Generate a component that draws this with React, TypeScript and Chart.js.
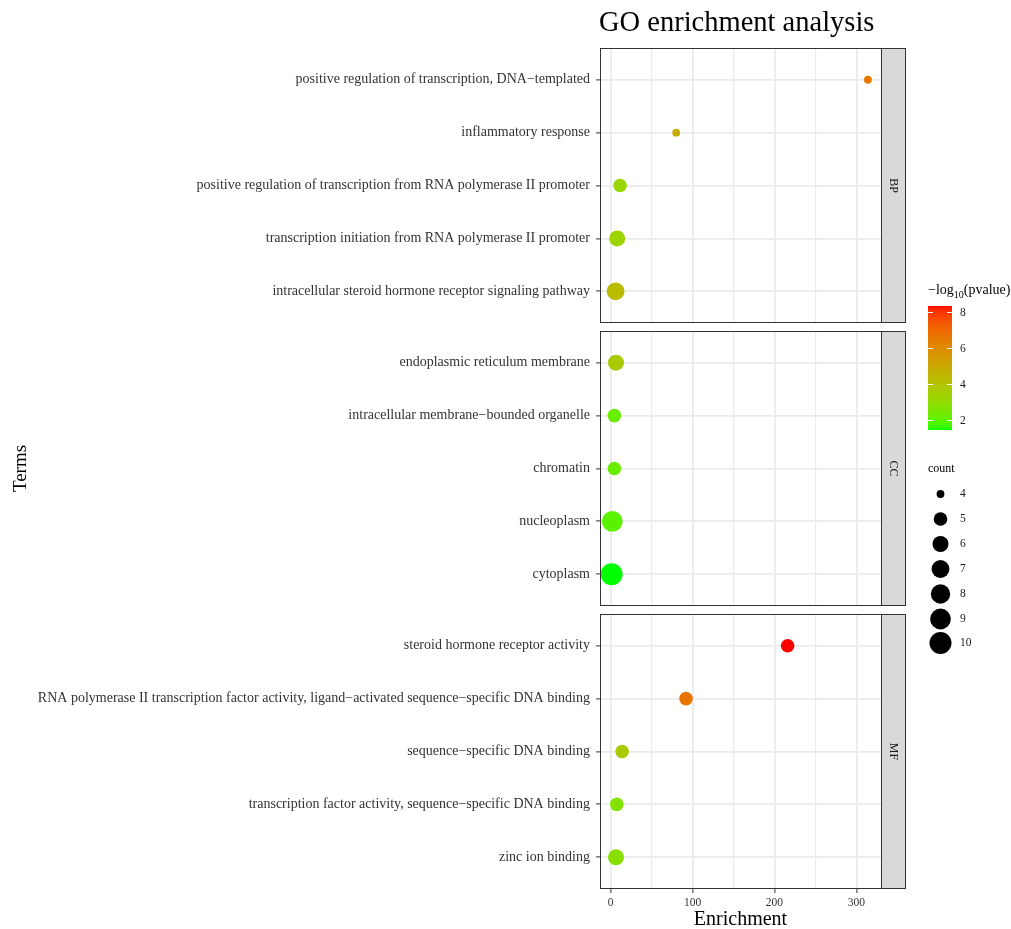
import React, { useEffect, useRef } from "react";
import { Chart, registerables } from "chart.js";

Chart.register(...registerables);

// ---------------- data ----------------
const facetNames = ["BP", "CC", "MF"];

const bpTerms = [
  "positive regulation of transcription, DNA\u2212templated",
  "inflammatory response",
  "positive regulation of transcription from RNA polymerase II promoter",
  "transcription initiation from RNA polymerase II promoter",
  "intracellular steroid hormone receptor signaling pathway",
];
const bpEnrichment = [314, 80, 11.5, 8, 6];
const bpCount = [4, 4, 5, 6, 7];
const bpLogP = [6.6, 4.9, 3.2, 3.3, 4.2];

const ccTerms = [
  "endoplasmic reticulum membrane",
  "intracellular membrane\u2212bounded organelle",
  "chromatin",
  "nucleoplasm",
  "cytoplasm",
];
const ccEnrichment = [6.5, 4.5, 4.5, 2, 1.2];
const ccCount = [6, 5, 5, 9, 10];
const ccLogP = [3.7, 2.2, 2.2, 2.0, 1.45];

const mfTerms = [
  "steroid hormone receptor activity",
  "RNA polymerase II transcription factor activity, ligand\u2212activated sequence\u2212specific DNA binding",
  "sequence\u2212specific DNA binding",
  "transcription factor activity, sequence\u2212specific DNA binding",
  "zinc ion binding",
];
const mfEnrichment = [216, 92, 14, 7.5, 6.5];
const mfCount = [5, 5, 5, 5, 6];
const mfLogP = [8.35, 6.7, 3.7, 2.7, 2.8];

const xTickValues = [0, 50, 100, 150, 200, 250, 300];
const colorbarTicks = [2, 4, 6, 8];
const sizeLegendCounts = [4, 5, 6, 7, 8, 9, 10];

// ---------------- colour helpers (Lab interpolation like ggplot) ----------------
const LOW_RGB = [0, 255, 0];
const HIGH_RGB = [255, 0, 0];
const Xn = 0.95047, Yn = 1.0, Zn = 1.08883;
function s2l(c: number) {
  c /= 255;
  return c <= 0.04045 ? c / 12.92 : Math.pow((c + 0.055) / 1.055, 2.4);
}
function l2s(c: number) {
  const v = c <= 0.0031308 ? 12.92 * c : 1.055 * Math.pow(Math.max(c, 0), 1 / 2.4) - 0.055;
  return Math.round(Math.max(0, Math.min(1, v)) * 255);
}
function rgbToLab(rgb: number[]) {
  const R = s2l(rgb[0]), G = s2l(rgb[1]), B = s2l(rgb[2]);
  const X = R * 0.4124 + G * 0.3576 + B * 0.1805;
  const Y = R * 0.2126 + G * 0.7152 + B * 0.0722;
  const Z = R * 0.0193 + G * 0.1192 + B * 0.9505;
  const f = (t: number) => (t > 0.008856 ? Math.cbrt(t) : 7.787 * t + 16 / 116);
  const fx = f(X / Xn), fy = f(Y / Yn), fz = f(Z / Zn);
  return [116 * fy - 16, 500 * (fx - fy), 200 * (fy - fz)];
}
function labToRgb(lab: number[]) {
  const fy = (lab[0] + 16) / 116, fx = fy + lab[1] / 500, fz = fy - lab[2] / 200;
  const finv = (t: number) => (t * t * t > 0.008856 ? t * t * t : (t - 16 / 116) / 7.787);
  const X = Xn * finv(fx), Y = Yn * finv(fy), Z = Zn * finv(fz);
  const R = 3.2406 * X - 1.5372 * Y - 0.4986 * Z;
  const G = -0.9689 * X + 1.8758 * Y + 0.0415 * Z;
  const B = 0.0557 * X - 0.204 * Y + 1.057 * Z;
  return `rgb(${l2s(R)},${l2s(G)},${l2s(B)})`;
}
const LOW_LAB = rgbToLab(LOW_RGB);
const HIGH_LAB = rgbToLab(HIGH_RGB);

const allLogP = [...bpLogP, ...ccLogP, ...mfLogP];
const allCount = [...bpCount, ...ccCount, ...mfCount];
const pMin = Math.min(...allLogP);
const pMax = Math.max(...allLogP);
const cMin = Math.min(...allCount);
const cMax = Math.max(...allCount);

function colorFor(v: number) {
  const t = Math.max(0, Math.min(1, (v - pMin) / (pMax - pMin)));
  return labToRgb([
    LOW_LAB[0] + (HIGH_LAB[0] - LOW_LAB[0]) * t,
    LOW_LAB[1] + (HIGH_LAB[1] - LOW_LAB[1]) * t,
    LOW_LAB[2] + (HIGH_LAB[2] - LOW_LAB[2]) * t,
  ]);
}
const R_MIN = 3.9, R_MAX = 11;
function radiusFor(c: number) {
  return R_MIN + (R_MAX - R_MIN) * Math.sqrt((c - cMin) / (cMax - cMin));
}

// ---------------- facet layout (in y-scale units) ----------------
const PANEL_H = 5.2; // 5 rows + 0.6 expansion at each end
const GAP = 0.15;
const Y_TOP = 3 * PANEL_H + 2 * GAP;
const facets = [
  { name: facetNames[0], terms: bpTerms, x: bpEnrichment, count: bpCount, p: bpLogP },
  { name: facetNames[1], terms: ccTerms, x: ccEnrichment, count: ccCount, p: ccLogP },
  { name: facetNames[2], terms: mfTerms, x: mfEnrichment, count: mfCount, p: mfLogP },
];
function panelBottom(k: number) {
  return (2 - k) * (PANEL_H + GAP);
}
function rowValue(k: number, i: number) {
  return panelBottom(k) + PANEL_H - 0.6 - i;
}

const FONT = "'Liberation Serif', 'Times New Roman', serif";

export default function App() {
  const ref = useRef<HTMLCanvasElement | null>(null);

  useEffect(() => {
    if (!ref.current) return;

    const points: any[] = [];
    const colors: string[] = [];
    const radii: number[] = [];
    const tickEntries: { value: number; label: string }[] = [];
    facets.forEach((f, k) => {
      f.terms.forEach((term, i) => {
        points.push({ x: f.x[i], y: rowValue(k, i) });
        colors.push(colorFor(f.p[i]));
        radii.push(radiusFor(f.count[i]));
        tickEntries.push({ value: rowValue(k, i), label: term });
      });
    });
    tickEntries.sort((a, b) => a.value - b.value);

    const facetPlugin = {
      id: "facetDecor",
      beforeDatasetsDraw(chart: any) {
        const { ctx, chartArea, scales } = chart;
        const y = scales.y;
        ctx.save();
        ctx.fillStyle = "#ffffff";
        for (let k = 0; k < 2; k++) {
          const top = y.getPixelForValue(panelBottom(k));
          const bot = y.getPixelForValue(panelBottom(k) - GAP);
          ctx.fillRect(chartArea.left - 1, top, chartArea.right - chartArea.left + 2, bot - top);
        }
        ctx.restore();
      },
      afterDraw(chart: any) {
        const { ctx, chartArea, scales } = chart;
        const y = scales.y;
        ctx.save();
        const stripW = 24;
        facets.forEach((f, k) => {
          const top = Math.round(y.getPixelForValue(panelBottom(k) + PANEL_H)) + 0.5;
          const bot = Math.round(y.getPixelForValue(panelBottom(k))) - 0.5;
          const left = Math.round(chartArea.left) + 0.5;
          const right = Math.round(chartArea.right) + 0.5;
          ctx.fillStyle = "#D9D9D9";
          ctx.fillRect(right, top, stripW, bot - top);
          ctx.strokeStyle = "#333333";
          ctx.lineWidth = 1;
          ctx.strokeRect(right, top, stripW, bot - top);
          ctx.strokeRect(left, top, right - left, bot - top);
          ctx.save();
          ctx.translate(right + stripW / 2, (top + bot) / 2);
          ctx.rotate(Math.PI / 2);
          ctx.fillStyle = "#1A1A1A";
          ctx.font = `12px ${FONT}`;
          ctx.textAlign = "center";
          ctx.textBaseline = "middle";
          ctx.fillText(f.name, 0, 0);
          ctx.restore();
        });

        // title
        ctx.fillStyle = "#000000";
        ctx.font = `28.5px ${FONT}`;
        ctx.textAlign = "left";
        ctx.textBaseline = "middle";
        ctx.fillText("GO enrichment analysis", chartArea.left - 1, 24);

        // colour legend
        const lx = 928;
        ctx.font = `14px ${FONT}`;
        ctx.fillStyle = "#000000";
        ctx.textBaseline = "alphabetic";
        let tx = lx;
        const base = 294;
        ctx.fillText("\u2212log", tx, base);
        tx += ctx.measureText("\u2212log").width;
        ctx.font = `10px ${FONT}`;
        ctx.fillText("10", tx, base + 3.5);
        tx += ctx.measureText("10").width;
        ctx.font = `14px ${FONT}`;
        ctx.fillText("(pvalue)", tx, base);

        const barTop = 306, barBot = 430, barW = 24;
        for (let py = barTop; py < barBot; py++) {
          const v = pMax - ((py - barTop + 0.5) / (barBot - barTop)) * (pMax - pMin);
          ctx.fillStyle = colorFor(v);
          ctx.fillRect(lx, py, barW, 1);
        }
        ctx.strokeStyle = "#ffffff";
        ctx.lineWidth = 1;
        ctx.font = `11.5px ${FONT}`;
        ctx.textBaseline = "middle";
        colorbarTicks.forEach((v) => {
          const py = Math.round(barBot - ((v - pMin) / (pMax - pMin)) * (barBot - barTop)) + 0.5;
          ctx.beginPath();
          ctx.moveTo(lx, py);
          ctx.lineTo(lx + 5, py);
          ctx.moveTo(lx + barW - 5, py);
          ctx.lineTo(lx + barW, py);
          ctx.stroke();
          ctx.fillStyle = "#1A1A1A";
          ctx.fillText(String(v), 960, py);
        });

        // size legend
        ctx.font = `12px ${FONT}`;
        ctx.fillStyle = "#000000";
        ctx.fillText("count", lx, 469);
        const ys = [494, 519, 544, 569, 594, 619, 643];
        sizeLegendCounts.forEach((c, i) => {
          ctx.beginPath();
          ctx.fillStyle = "#000000";
          ctx.arc(940.5, ys[i], radiusFor(c), 0, Math.PI * 2);
          ctx.fill();
          ctx.font = `11.5px ${FONT}`;
          ctx.fillStyle = "#1A1A1A";
          ctx.fillText(String(c), 960, ys[i]);
        });
        ctx.restore();
      },
    };

    const chart = new Chart(ref.current, {
      type: "scatter",
      data: {
        datasets: [
          {
            data: points,
            backgroundColor: colors,
            borderWidth: 0,
            pointRadius: radii,
            pointHoverRadius: radii,
          } as any,
        ],
      },
      options: {
        animation: false,
        responsive: false,
        devicePixelRatio: 1,
        events: [],
        layout: { padding: { top: 48, right: 130, bottom: 0, left: 0 } },
        plugins: {
          legend: { display: false },
          tooltip: { enabled: false },
          title: { display: false },
        },
        scales: {
          x: {
            type: "linear",
            min: -13,
            max: 330,
            afterBuildTicks: (scale: any) => {
              scale.ticks = xTickValues.map((v) => ({ value: v }));
            },
            afterFit: (scale: any) => {
              scale.height = 40;
            },
            border: { display: false },
            grid: {
              color: "#EBEBEB",
              lineWidth: (ctx: any) => (ctx.tick && ctx.tick.value % 100 === 0 ? 1.8 : 1.2),
              tickColor: (ctx: any) =>
                ctx.tick && ctx.tick.value % 100 === 0 ? "#333333" : "rgba(0,0,0,0)",
              tickLength: 4,
              tickWidth: 1,
            },
            ticks: {
              autoSkip: false,
              maxRotation: 0,
              padding: 3,
              color: "#333333",
              font: { family: FONT, size: 11.5 },
              callback: (v: any) => (Number(v) % 100 === 0 ? String(v) : ""),
            },
            title: {
              display: true,
              text: "Enrichment",
              color: "#000000",
              font: { family: FONT, size: 20, lineHeight: 1 },
              padding: { top: 0, bottom: -1 },
            },
          },
          y: {
            type: "linear",
            min: 0,
            max: Y_TOP,
            afterBuildTicks: (scale: any) => {
              scale.ticks = tickEntries.map((t) => ({ value: t.value }));
            },
            afterFit: (scale: any) => {
              scale.width = 600;
            },
            border: { display: false },
            grid: {
              color: "#EBEBEB",
              lineWidth: 1.8,
              tickColor: "#333333",
              tickLength: 4,
              tickWidth: 1,
            },
            ticks: {
              autoSkip: false,
              padding: 6,
              color: "#333333",
              font: { family: FONT, size: 14 },
              callback: (_v: any, i: number) => tickEntries[i].label,
            },
            title: {
              display: true,
              text: "Terms",
              color: "#000000",
              font: { family: FONT, size: 19 },
              padding: { top: 10, bottom: 0 },
            },
          },
        },
      },
      plugins: [facetPlugin],
    } as any);

    return () => chart.destroy();
  }, []);

  return (
    <div style={{ position: "absolute", left: 0, top: 0, width: 1011, height: 929, background: "#fff" }}>
      <canvas ref={ref} width={1011} height={929} style={{ display: "block" }} />
    </div>
  );
}
